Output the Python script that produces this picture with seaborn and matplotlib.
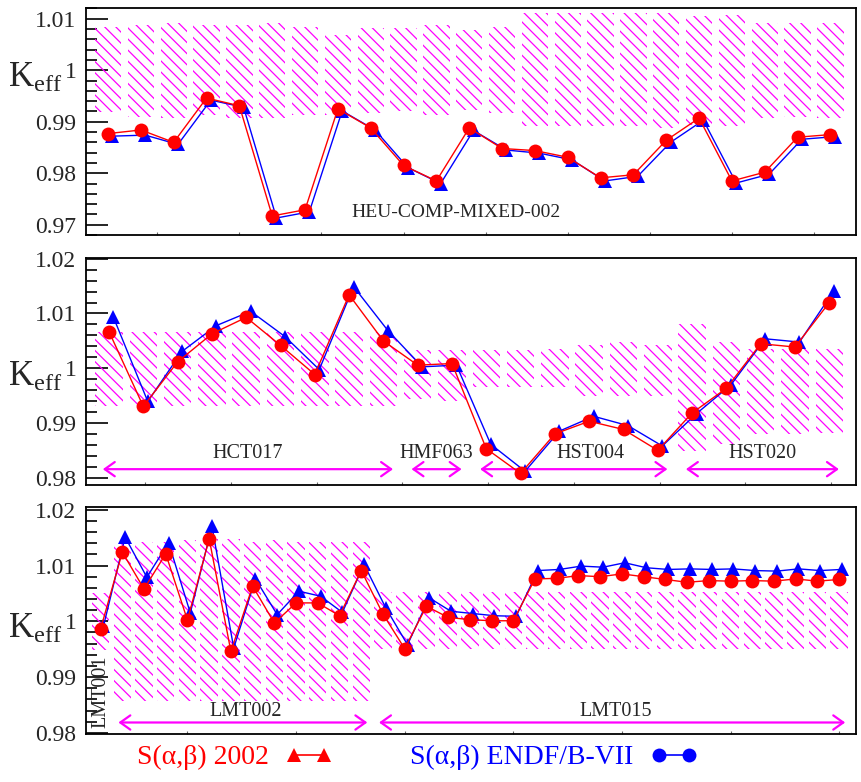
import numpy as np
import matplotlib
matplotlib.use('Agg')
import matplotlib.pyplot as plt
import matplotlib.transforms as mtransforms
from matplotlib.ticker import MultipleLocator, FixedLocator, FuncFormatter
from matplotlib.lines import Line2D
import seaborn as sns

# ---- HEU-COMP-MIXED-002 (top panel)
heu_2002 = [0.9877, 0.9884, 0.9860, 0.9946, 0.9931, 0.9717, 0.9729, 0.9925, 0.9888, 0.9815,
            0.9785, 0.9888, 0.9848, 0.9844, 0.9831, 0.9791, 0.9797, 0.9864, 0.9907, 0.9785,
            0.9802, 0.9870, 0.9875]
heu_b7 = [0.9872, 0.9874, 0.9856, 0.9942, 0.9928, 0.9713, 0.9725, 0.9921, 0.9884, 0.9811,
          0.9780, 0.9883, 0.9845, 0.9839, 0.9826, 0.9785, 0.9794, 0.9860, 0.9903, 0.9781,
          0.9798, 0.9866, 0.9871]
heu_hi = [1.0085, 1.0088, 1.0092, 1.0088, 1.0088, 1.0092, 1.0085, 1.0069, 1.0082, 1.0082,
          1.0088, 1.0079, 1.0085, 1.0111, 1.0111, 1.0111, 1.0111, 1.0111, 1.0105, 1.0108,
          1.0092, 1.0092, 1.0092]
heu_lo = [0.9918, 0.9910, 0.9908, 0.9914, 0.9908, 0.9908, 0.9914, 0.9914, 0.9917, 0.9920,
          0.9914, 0.9923, 0.9917, 0.9891, 0.9891, 0.9891, 0.9891, 0.9888, 0.9894, 0.9891,
          0.9908, 0.9910, 0.9908]

# ---- HCT017 / HMF063 / HST004 / HST020 (middle panel)
mix_2002 = [1.0067, 0.9931, 1.0012, 1.0063, 1.0093, 1.0042, 0.9989, 1.0134, 1.0050,
            1.0006, 1.0009,
            0.9854, 0.9809, 0.9881, 0.9904, 0.9889, 0.9851,
            0.9919, 0.9964, 1.0045, 1.0039, 1.0120]
mix_b7 = [1.0093, 0.9940, 1.0031, 1.0078, 1.0104, 1.0058, 0.9998, 1.0149, 1.0069,
          1.0003, 1.0006,
          0.9862, 0.9813, 0.9886, 0.9913, 0.9896, 0.9859,
          0.9918, 0.9970, 1.0054, 1.0048, 1.0141]
mix_hi = [1.0067] * 9 + [1.0033, 1.0033] + [1.0033, 1.0033, 1.0035, 1.0042, 1.0048, 1.0042] + \
         [1.0080, 1.0048, 1.0036, 1.0036, 1.0035]
mix_lo = [0.9931] * 9 + [0.9944, 0.9941] + [0.9967, 0.9967, 0.9967, 0.9949, 0.9949, 0.9949] + \
         [0.9850, 0.9863, 0.9880, 0.9880, 0.9883]
mix_groups = ['HCT017', 'HMF063', 'HST004', 'HST020']
mix_sizes = [9, 2, 6, 5]

# ---- LMT001 / LMT002 / LMT015 (bottom panel)
lmt_2002 = [0.9986,
            1.0124, 1.0058, 1.0121, 1.0002, 1.0148, 0.9946, 1.0063, 0.9997, 1.0033, 1.0033, 1.0010, 1.0091,
            1.0013, 0.9951, 1.0027, 1.0007, 1.0003, 1.0001, 1.0001, 1.0076, 1.0077, 1.0082, 1.0080, 1.0085,
            1.0080, 1.0075, 1.0070, 1.0073, 1.0072, 1.0073, 1.0072, 1.0076, 1.0072, 1.0075]
lmt_b7 = [0.9991,
          1.0151, 1.0079, 1.0141, 1.0015, 1.0170, 0.9952, 1.0076, 1.0012, 1.0054, 1.0045, 1.0016, 1.0102,
          1.0024, 0.9958, 1.0042, 1.0018, 1.0014, 1.0010, 1.0009, 1.0091, 1.0093, 1.0099, 1.0097, 1.0105,
          1.0096, 1.0093, 1.0094, 1.0093, 1.0094, 1.0091, 1.0090, 1.0094, 1.0091, 1.0093]
lmt_hi = [1.0051] + [1.0143, 1.0143, 1.0143, 1.0145, 1.0147, 1.0147, 1.0143, 1.0145, 1.0143, 1.0143,
                     1.0143, 1.0143] + [1.0053] * 22
lmt_lo = [0.9949] + [0.9858] * 12 + [0.9951] * 22
lmt_groups = ['LMT001', 'LMT002', 'LMT015']
lmt_sizes = [1, 12, 22]

legend_labels = ['S(α,β) 2002', 'S(α,β) ENDF/B-VII']

sns.set_theme(style='white')
plt.rcParams['font.family'] = ['Liberation Serif', 'DejaVu Serif']
plt.rcParams['mathtext.fontset'] = 'custom'
plt.rcParams['mathtext.rm'] = 'Liberation Serif'
plt.rcParams['mathtext.it'] = 'Liberation Serif:italic'
plt.rcParams['hatch.linewidth'] = 0.9

MAG = '#ff00ff'
fig = plt.figure(figsize=(8.62, 7.82), dpi=100)
ax_top = fig.add_axes([0.0998, 0.6995, 0.8933, 0.2903])
ax_mid = fig.add_axes([0.0998, 0.3798, 0.8933, 0.2903])
ax_bot = fig.add_axes([0.0998, 0.0614, 0.8933, 0.2903])


def panel(ax, k2002, kb7, hi, lo, ylim, xticks):
    n = len(k2002)
    idx = np.arange(n)
    hi = np.array(hi)
    lo = np.array(lo)
    ax.bar(idx, hi - lo, bottom=lo, width=0.8, facecolor='none', edgecolor=MAG,
           linewidth=0, hatch='\\\\\\', zorder=1)
    sns.lineplot(x=idx + 0.13, y=kb7, ax=ax, color='blue', marker='^', markersize=10,
                 markeredgewidth=0, linewidth=1.0, zorder=3)
    sns.lineplot(x=idx, y=k2002, ax=ax, color='red', marker='o', markersize=10,
                 markeredgewidth=0, linewidth=1.0, zorder=4)
    ax.set_xlim(-0.67, n - 0.22)
    ax.set_ylim(*ylim)
    ax.yaxis.set_major_locator(MultipleLocator(0.01))
    ax.yaxis.set_minor_locator(MultipleLocator(0.002))
    ax.yaxis.set_major_formatter(FuncFormatter(lambda v, p: '%g' % round(v, 3)))
    ax.xaxis.set_major_locator(FixedLocator(xticks))
    ax.tick_params(axis='y', which='major', direction='in', length=16, width=1.2,
                   labelsize=17, pad=7, left=True, right=False, color='black')
    ax.tick_params(axis='y', which='minor', direction='in', length=8, width=1.2,
                   left=True, right=False, color='black')
    ax.tick_params(axis='x', which='major', direction='in', length=2, width=0.8,
                   bottom=True, labelbottom=False, color='#666666')
    ax.set_xlabel('')
    ax.set_ylabel('')
    for sp in ax.spines.values():
        sp.set_color('black')
        sp.set_linewidth(1.3)
    trans = mtransforms.offset_copy(ax.get_yaxis_transform(), fig=fig, y=-17, units='dots')
    ax.text(-0.101, 1.0, r'K$_{\mathrm{eff}}$', transform=trans, fontsize=25,
            ha='left', va='baseline')


def groups(ax, names, sizes, y_arrow, y_text, label_dx, skip_first=False):
    start = 0
    for i, (name, size) in enumerate(zip(names, sizes)):
        end = start + size - 1
        if skip_first and i == 0:
            ax.text(start, 0.9874, name, rotation=90, ha='center', va='center', fontsize=14.5)
        else:
            ax.annotate('', xy=(end + 0.28, y_arrow), xytext=(start - 0.18, y_arrow),
                        arrowprops=dict(arrowstyle='<->,head_length=0.45,head_width=0.32',
                                        color=MAG, lw=1.6, mutation_scale=16,
                                        shrinkA=0, shrinkB=0), zorder=2)
            ax.text((start + end) / 2 + 0.05 + label_dx[i], y_text, name, ha='center',
                    va='center', fontsize=14.5)
        start = end + 1


panel(ax_top, heu_2002, heu_b7, heu_hi, heu_lo, (0.968, 1.0121),
      np.arange(1.5, 22, 2.5))
ax_top.text(10.6, 0.9723, 'HEU-COMP-MIXED-002', ha='center', va='center', fontsize=14)

panel(ax_mid, mix_2002, mix_b7, mix_hi, mix_lo, (0.9788, 1.0201),
      np.arange(1.05, 22, 2.5))
groups(ax_mid, mix_groups, mix_sizes, 0.98168, 0.9846, [0, 0, 0.5, 0])

panel(ax_bot, lmt_2002, lmt_b7, lmt_hi, lmt_lo, (0.9798, 1.0205),
      np.arange(4, 35, 5))
groups(ax_bot, lmt_groups, lmt_sizes, 0.98186, 0.9838, [0, 0.15, 0.15], skip_first=True)

handles = [Line2D([], [], color='red', marker='^', markersize=10, markeredgewidth=0, lw=1.2),
           Line2D([], [], color='blue', marker='o', markersize=10, markeredgewidth=0, lw=1.2)]
fig.legend(handles, legend_labels, loc='center', bbox_to_anchor=(0.484, 0.031), ncol=2,
           frameon=False, markerfirst=False, numpoints=2, handlelength=1.7,
           handletextpad=0.6, columnspacing=2.8, fontsize=20, labelcolor=['red', 'blue'])

fig.savefig('out.png', dpi=100)
